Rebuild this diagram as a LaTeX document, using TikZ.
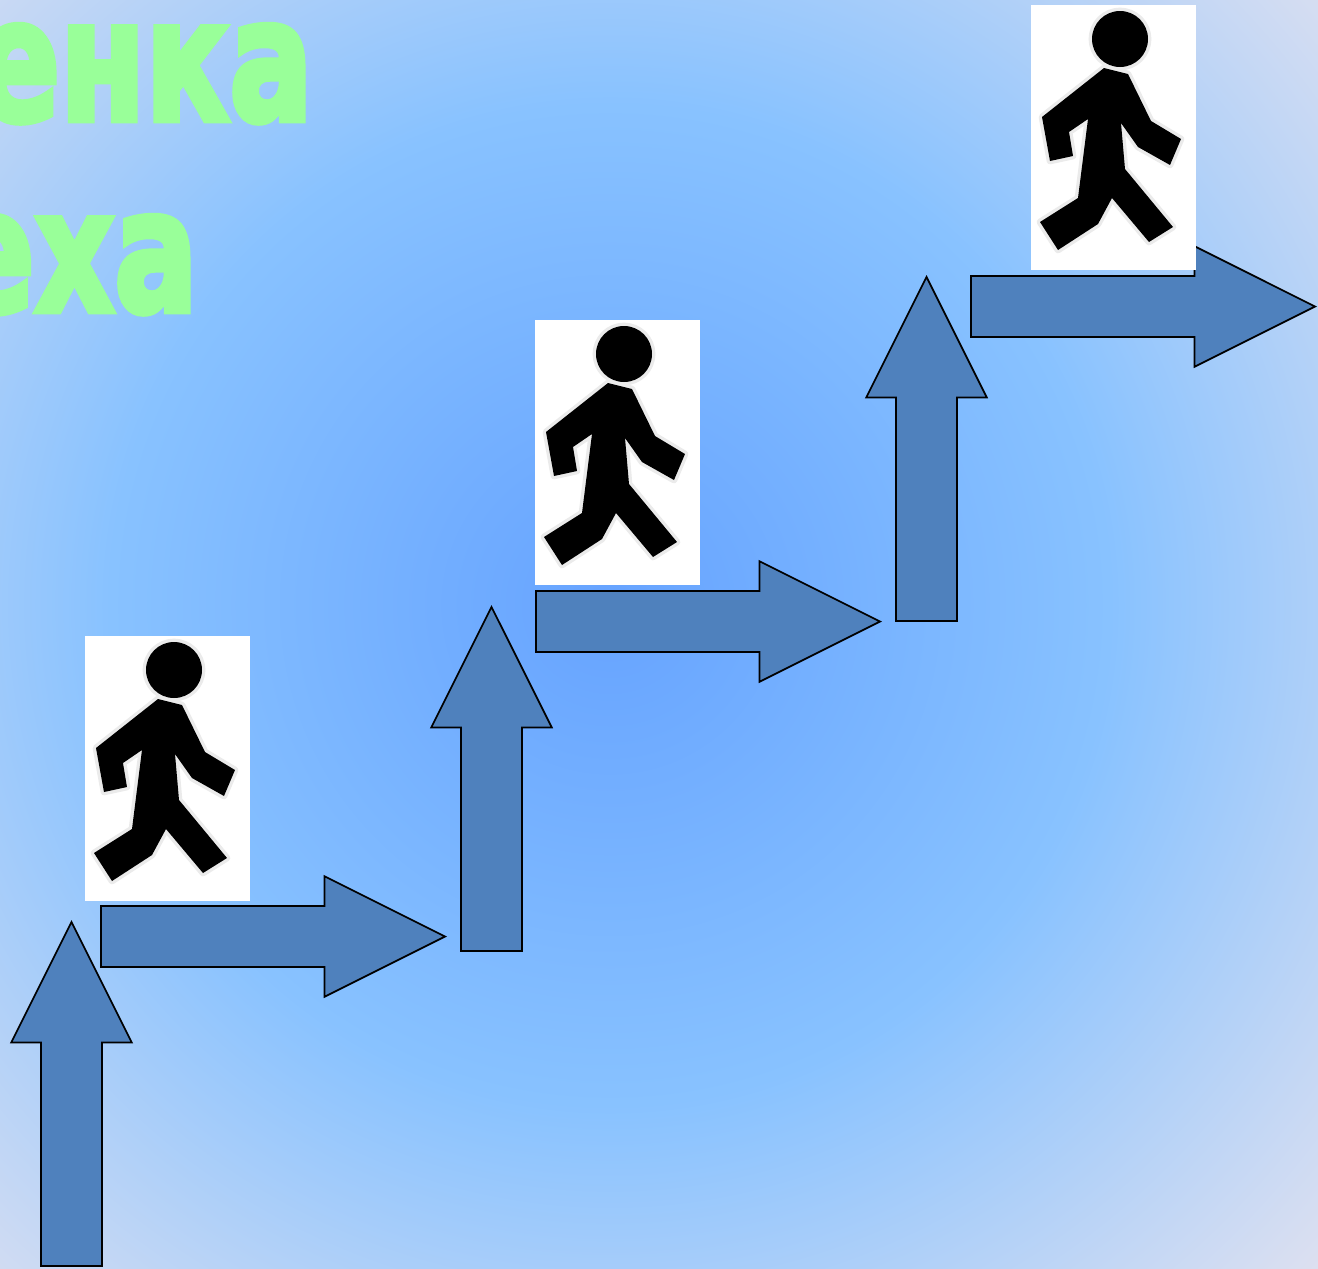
\documentclass[tikz,border=0pt]{standalone}
\usepackage{fontspec}
\usetikzlibrary{shapes.arrows}
\newfontfamily\titlefont[BoldFeatures={FakeBold=4}]{DejaVu Sans}
\definecolor{bgin}{HTML}{66A3FF}
\definecolor{bgmid}{HTML}{88C2FF}
\definecolor{bgout}{HTML}{DDE0F0}
\definecolor{stepblue}{HTML}{4F81BD}
\definecolor{titlegreen}{HTML}{99FF99}
\pgfdeclareradialshading{bgshade}{\pgfpoint{0bp}{0bp}}{color(0bp)=(bgin);color(12.5bp)=(bgmid);color(24.3bp)=(bgout);color(50bp)=(bgout)}
\begin{document}
\begin{tikzpicture}[x=0.75pt,y=-0.75pt,
	stairarrow/.style={single arrow,anchor=tip,draw=black,fill=stepblue,line width=1.3pt,inner sep=22.2pt,minimum height=258pt,minimum width=90.2pt,single arrow head extend=22.4pt,single arrow tip angle=53.13},
	uparrow/.style={stairarrow,shape border rotate=90},
	title/.style={text=titlegreen,anchor=base east,inner sep=0pt,font=\titlefont\bfseries\fontsize{127pt}{127pt}\selectfont,xscale=.73,transform shape},
	photo/.style={fill=white,draw=none,anchor=north west,inner sep=0pt,minimum width=123.75pt,minimum height=198.75pt},
	halo/.style={fill=black,preaction={draw=black!8,line width=5pt,line join=round}},
	walker/.pic={
		\path[halo] (89,34) circle (28);
		\path[halo] (73,63) -- (97,69) -- (120,116) -- (150,134) -- (139,160) -- (107,142) -- (90,118) -- (94,164) -- (142,222) -- (118,237) -- (81,193) -- (67,219) -- (27,245) -- (9,217) -- (47,193) -- (57,114) -- (38,127) -- (42,151) -- (19,156) -- (11,112) -- cycle;
	}]
	\useasboundingbox (0,0) rectangle (1318,1268);
	\clip (0,0) rectangle (1318,1268);

	% Background
	\fill[shading=bgshade] (610,605) circle (1000);

	% Title
	\node[title] (line1) at (313,120) {енка};
	\node[title] (line2) at (198,311) {еха};

	% Arrows
	\node[uparrow] (up1) at (71.5,920) {};
	\node[stairarrow] (right1) at (447,936.5) {};
	\node[uparrow] (up2) at (491.5,605) {};
	\node[stairarrow] (right2) at (882,621.5) {};
	\node[uparrow] (up3) at (926.5,275) {};
	\node[stairarrow] (right3) at (1317,306.5) {};

	% Walkers
	\node[photo] (photo1) at (85,636) {};
	\node[photo] (photo2) at (535,320) {};
	\node[photo] (photo3) at (1031,5) {};
	\pic at (85,636) {walker};
	\pic at (535,320) {walker};
	\pic at (1031,5) {walker};
\end{tikzpicture}
\end{document}
